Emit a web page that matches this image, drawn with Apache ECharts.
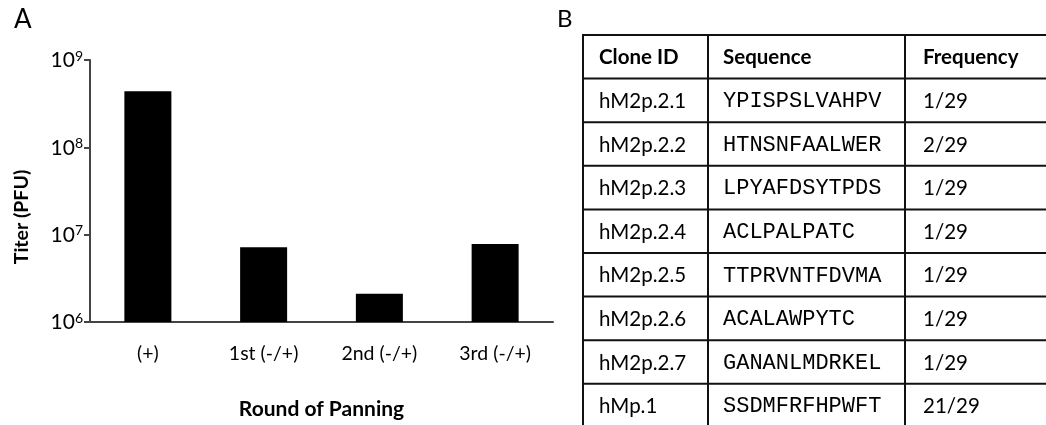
<!DOCTYPE html>
<html>
<head>
<meta charset="utf-8">
<script src="https://cdn.jsdelivr.net/npm/echarts@6/dist/echarts.min.js"></script>
<style>
  html, body { margin: 0; padding: 0; background: #fff; }
  #chart { width: 1046px; height: 425px; }
</style>
</head>
<body>
<div id="chart"></div>
<script>
// Panel A: phage titer after each round of panning
const rounds = ['(+)', '1st (-/+)', '2nd (-/+)', '3rd (-/+)'];
const titers = [4.4e8, 7.2e6, 2.1e6, 7.8e6];
const yMin = 1e6;
const yMax = 1e9;

// Panel B: sequenced clones
const tableHeader = ['Clone ID', 'Sequence', 'Frequency'];
const cloneIds = ['hM2p.2.1', 'hM2p.2.2', 'hM2p.2.3', 'hM2p.2.4', 'hM2p.2.5', 'hM2p.2.6', 'hM2p.2.7', 'hMp.1'];
const sequences = ['YPISPSLVAHPV', 'HTNSNFAALWER', 'LPYAFDSYTPDS', 'ACLPALPATC', 'TTPRVNTFDVMA', 'ACALAWPYTC', 'GANANLMDRKEL', 'SSDMFRFHPWFT'];
const frequencies = ['1/29', '2/29', '1/29', '1/29', '1/29', '1/29', '1/29', '21/29'];

const SANS = 'Lato, "Open Sans", sans-serif';
const MONO = '"Liberation Mono", "DejaVu Sans Mono", monospace';

// table geometry
const tbl = { x: 583, y: 35, colX: [583, 708, 905, 1047], rowH: 43.6, padX: [16, 15, 18] };

function buildTable() {
  const els = [];
  const rows = [tableHeader].concat(cloneIds.map((id, i) => [id, sequences[i], frequencies[i]]));
  const nRows = rows.length;
  const bottom = tbl.y + tbl.rowH * nRows;
  // horizontal rules
  for (let r = 0; r <= nRows; r++) {
    const y = tbl.y + r * tbl.rowH;
    els.push({ type: 'line', shape: { x1: tbl.colX[0] - 1, y1: y, x2: tbl.colX[3], y2: y },
      style: { stroke: '#111', lineWidth: 2 } });
  }
  // vertical rules
  tbl.colX.forEach(x => {
    els.push({ type: 'line', shape: { x1: x, y1: tbl.y, x2: x, y2: bottom },
      style: { stroke: '#111', lineWidth: 2 } });
  });
  // cell text
  rows.forEach((row, r) => {
    const cy = tbl.y + (r + 0.5) * tbl.rowH;
    row.forEach((txt, c) => {
      const isHeader = r === 0;
      const mono = !isHeader && c === 1;
      els.push({ type: 'text', x: tbl.colX[c] + tbl.padX[c], y: cy + 1,
        style: { text: txt, fill: '#000', align: 'left', verticalAlign: 'middle',
          font: (isHeader ? 'bold ' : '') + (mono ? '22px ' + MONO : '20.5px ' + SANS) } });
    });
  });
  return els;
}

const chart = echarts.init(document.getElementById('chart'), null, { renderer: 'canvas' });
chart.setOption({
  animation: false,
  backgroundColor: '#fff',
  grid: { left: 90, top: 60, width: 463, height: 264, containLabel: false },
  xAxis: {
    type: 'category',
    data: rounds,
    boundaryGap: true,
    axisLine: { lineStyle: { color: '#444', width: 2 } },
    axisTick: { show: false },
    axisLabel: { color: '#000', fontFamily: SANS, fontSize: 19.5, margin: 22 },
    name: 'Round of Panning',
    nameLocation: 'middle',
    nameGap: 77,
    nameTextStyle: { color: '#000', fontFamily: SANS, fontSize: 21, fontWeight: 'bold' }
  },
  yAxis: {
    type: 'log',
    logBase: 10,
    min: yMin,
    max: yMax,
    splitLine: { show: false },
    axisLine: { show: true, lineStyle: { color: '#444', width: 2 } },
    axisTick: { show: true, inside: false, length: 6, lineStyle: { color: '#444', width: 2 } },
    axisLabel: {
      margin: 7,
      formatter: v => '{b|10}{s|' + Math.round(Math.log10(v)) + '}',
      rich: {
        b: { fontFamily: SANS, fontSize: 21, color: '#000', verticalAlign: 'bottom', lineHeight: 22 },
        s: { fontFamily: SANS, fontSize: 14, color: '#000', verticalAlign: 'top', lineHeight: 22, padding: [0, 0, 10, 0] }
      }
    }
  },
  series: [{
    type: 'bar',
    data: titers,
    barWidth: 47,
    itemStyle: { color: '#000' },
    silent: true
  }],
  graphic: [
    { type: 'text', x: 14, y: 7, style: { text: 'A', font: '26px ' + SANS, fill: '#000' } },
    { type: 'text', x: 557, y: 7, style: { text: 'B', font: '24px ' + SANS, fill: '#000' } },
    { type: 'text', x: 22, y: 217, rotation: Math.PI / 2,
      style: { text: 'Titer (PFU)', font: 'bold 19.5px ' + SANS, fill: '#000', align: 'center', verticalAlign: 'middle' } }
  ].concat(buildTable())
});
</script>
</body>
</html>
